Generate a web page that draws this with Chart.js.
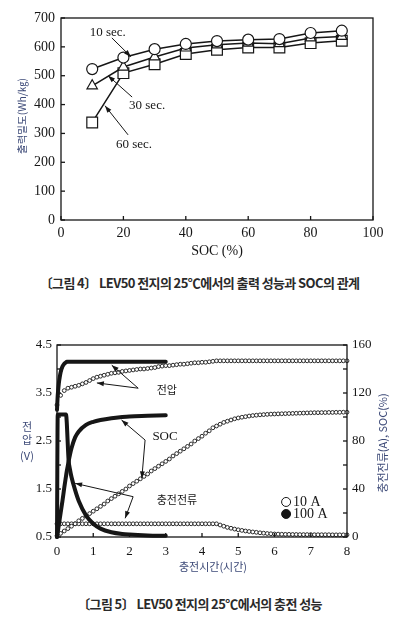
<!DOCTYPE html>
<html>
<head>
<meta charset="utf-8">
<script src="https://cdn.jsdelivr.net/npm/chart.js@4.4.0/dist/chart.umd.min.js"></script>
<style>
  body { margin: 0; background: #fff; width: 399px; height: 622px; position: relative; overflow: hidden; }
  canvas { position: absolute; left: 0; }
  #c1 { top: 0; }
  #c2 { top: 320px; }
  .cap { position: absolute; left: 0; width: 399px; text-align: center; white-space: nowrap;
         font-family: "Noto Sans CJK KR", sans-serif; font-size: 13px; font-weight: bold;
         line-height: 18px; color: #2a2a2a; letter-spacing: -0.6px; }
</style>
</head>
<body>
<canvas id="c1" width="399" height="262"></canvas>
<div class="cap" style="top:274px">〔그림 4〕 LEV50 전지의 25℃에서의 출력 성능과 SOC의 관계</div>
<canvas id="c2" width="399" height="260"></canvas>
<div class="cap" style="top:595px">〔그림 5〕 LEV50 전지의 25℃에서의 충전 성능</div>
<script>
const SERIF = "'Liberation Serif', 'DejaVu Serif', serif";
const KR = "'Noto Sans CJK KR', 'Noto Sans', sans-serif";
const INK = '#161616';
const NAVY = '#3d4a78';

// fig 4 : output density vs SOC
const socPct = [10, 20, 30, 40, 50, 60, 70, 80, 90];
const p10s = [523, 563, 592, 610, 620, 625, 627, 648, 656];
const p30s = [465, 530, 565, 596, 607, 613, 611, 631, 636];
const p60s = [338, 509, 540, 575, 590, 598, 598, 613, 621];

// fig 5 : charge at 10 A (open circles)
const t10 = [0,0.1,0.2,0.3,0.4,0.5,0.6,0.7,0.8,0.9,1,1.1,1.2,1.3,1.4,1.5,1.6,1.7,1.8,1.9,
  2,2.1,2.2,2.3,2.4,2.5,2.6,2.7,2.8,2.9,3,3.1,3.2,3.3,3.4,3.5,3.6,3.7,3.8,3.9,
  4,4.1,4.2,4.3,4.4,4.5,4.6,4.7,4.8,4.9,5,5.1,5.2,5.3,5.4,5.5,5.6,5.7,5.8,5.9,
  6,6.1,6.2,6.3,6.4,6.5,6.6,6.7,6.8,6.9,7,7.1,7.2,7.3,7.4,7.5,7.6,7.7,7.8,7.9,8];
const v10 = [3.25,3.45,3.55,3.6,3.62,3.64,3.66,3.69,3.72,3.76,
  3.8,3.83,3.85,3.87,3.89,3.91,3.92,3.93,3.95,3.96,
  3.97,3.98,3.99,4.0,4.0,4.01,4.02,4.03,4.05,4.06,
  4.07,4.07,4.08,4.09,4.1,4.1,4.11,4.12,4.13,4.13,
  4.14,4.14,4.15,4.16,4.17,4.17,4.17,4.17,4.17,4.17,
  4.17,4.17,4.17,4.17,4.17,4.17,4.17,4.17,4.17,4.17,
  4.17,4.17,4.17,4.17,4.17,4.17,4.17,4.17,4.17,4.17,
  4.17,4.17,4.17,4.17,4.17,4.17,4.17,4.17,4.17,4.17,
  4.17];
const soc10 = [1,3,5,7,9,11,13.5,15.5,17.5,19.5,
  21.5,23.5,25.5,27.5,30,32,34,36,38,40,
  42.5,44.5,46.5,48.5,50.5,52.5,55,57,59,61,
  63,65,67.5,69.5,71.5,73.5,75.5,77.5,80,82,
  84,86.5,88.5,91,92.5,94,95.5,96.5,97.5,98.5,
  99.2,99.8,100.3,100.8,101.2,101.5,101.8,102,102.2,102.4,
  102.5,102.6,102.7,102.8,102.9,103,103.1,103.2,103.3,103.4,
  103.5,103.6,103.6,103.7,103.7,103.8,103.8,103.9,103.9,104,
  104];
const cur10 = [11,11,11,11,11,11,11,11,11,11,
  11,11,11,11,11,11,11,11,11,11,
  11,11,11,11,11,11,11,11,11,11,
  11,11,11,11,11,11,11,11,11,11,
  11,11,11,11,11,10,9,8,7.3,6.6,
  6,5.5,5,4.6,4.2,3.9,3.5,3.2,2.9,2.7,
  2.5,2.4,2.3,2.2,2.2,2.1,2.1,2,2,2,
  2,1.9,1.9,1.9,1.9,1.9,1.8,1.8,1.8,1.8,
  1.8];

// fig 5 : charge at 100 A (filled, drawn as a heavy trace)
const t100 = [0,0.02,0.05,0.08,0.1,0.15,0.2,0.25,0.27,0.29,0.32,0.36,0.4,0.5,0.6,0.8,1.0,1.2,1.5,1.8,2.0,2.5,3.0];
const v100 = [3.15,3.45,3.7,3.85,3.93,4.05,4.11,4.14,4.15,4.15,4.15,4.15,4.15,4.15,4.15,4.15,4.15,4.15,4.15,4.15,4.15,4.15,4.15];
const soc100 = [0,4,10,16,20,30,41,51,55,58,63,69,74,83,88,93.5,96,97.5,99,100,100.5,101,101.5];
const cur100 = [0,102,102,102,102,102,102,102,95,82,64,56,50,39,30,18,11,7,4,2.5,2,1.3,1];

const pts = (xs, ys) => xs.map((x, i) => ({ x, y: ys[i] }));

// frame, inward ticks, free text and arrows
const frame = {
  id: 'frame',
  afterDraw(chart, args, o) {
    const { ctx, chartArea: a } = chart;
    ctx.save();
    ctx.strokeStyle = INK;
    ctx.lineWidth = 1.3;
    ctx.strokeRect(a.left, a.top, a.right - a.left, a.bottom - a.top);
    Object.values(chart.scales).forEach(s => {
      s.ticks.forEach(t => {
        const p = s.getPixelForValue(t.value);
        ctx.beginPath();
        if (s.position === 'left') { ctx.moveTo(a.left, p); ctx.lineTo(a.left + 4, p); }
        else if (s.position === 'right') { ctx.moveTo(a.right, p); ctx.lineTo(a.right - 4, p); }
        else { ctx.moveTo(p, a.bottom); ctx.lineTo(p, a.bottom - 4); }
        ctx.stroke();
      });
    });
    const X = chart.scales.x;
    ctx.lineWidth = 1;
    (o.arrows || []).forEach(ar => {
      const Y = chart.scales[ar.axis || 'y'];
      const x0 = X.getPixelForValue(ar.from[0]), y0 = Y.getPixelForValue(ar.from[1]);
      const x1 = X.getPixelForValue(ar.to[0]), y1 = Y.getPixelForValue(ar.to[1]);
      const ang = Math.atan2(y1 - y0, x1 - x0);
      ctx.beginPath(); ctx.moveTo(x0, y0); ctx.lineTo(x1, y1); ctx.stroke();
      ctx.beginPath();
      ctx.moveTo(x1, y1);
      ctx.lineTo(x1 - 7 * Math.cos(ang) + 2.5 * Math.sin(ang), y1 - 7 * Math.sin(ang) - 2.5 * Math.cos(ang));
      ctx.lineTo(x1 - 7 * Math.cos(ang) - 2.5 * Math.sin(ang), y1 - 7 * Math.sin(ang) + 2.5 * Math.cos(ang));
      ctx.closePath();
      ctx.fillStyle = INK; ctx.fill();
    });
    (o.marks || []).forEach(m => {
      const Y = chart.scales[m.axis || 'y'];
      ctx.beginPath();
      ctx.arc(X.getPixelForValue(m.x), Y.getPixelForValue(m.y), m.r, 0, Math.PI * 2);
      ctx.fillStyle = m.fill ? INK : '#fff';
      ctx.fill(); ctx.stroke();
    });
    ctx.textBaseline = 'middle';
    (o.texts || []).forEach(tx => {
      const Y = chart.scales[tx.axis || 'y'];
      ctx.font = tx.font; ctx.fillStyle = tx.color || INK; ctx.textAlign = tx.align || 'center';
      ctx.fillText(tx.text, X.getPixelForValue(tx.x), Y.getPixelForValue(tx.y));
    });
    (o.titles || []).forEach(tt => {
      ctx.save();
      ctx.translate(tt.x, tt.y);
      if (tt.rot) ctx.rotate(tt.rot);
      ctx.font = tt.font; ctx.fillStyle = tt.color || INK; ctx.textAlign = 'center';
      ctx.fillText(tt.text, 0, 0);
      ctx.restore();
    });
    ctx.restore();
  }
};

const tickFont = size => ({ family: SERIF, size });
const plain = { grid: { display: false, drawTicks: false, tickLength: 0 }, border: { display: false } };

// ---------- fig 4
const lineSet = (label, ys, style, r) => ({
  label, data: pts(socPct, ys), showLine: true,
  borderColor: INK, borderWidth: 1.5, pointStyle: style, pointRadius: r,
  pointBackgroundColor: '#fff', pointBorderColor: INK, pointBorderWidth: 1.2, clip: false
});

new Chart(document.getElementById('c1'), {
  type: 'scatter',
  data: { datasets: [
    lineSet('10 sec.', p10s, 'circle', 5.5),
    lineSet('30 sec.', p30s, 'triangle', 6),
    lineSet('60 sec.', p60s, 'rect', 7.6)
  ]},
  options: {
    responsive: false, animation: false,
    layout: { padding: { left: 0, right: 26, top: 18, bottom: 0 } },
    scales: {
      x: { ...plain, type: 'linear', min: 0, max: 100,
           ticks: { stepSize: 20, font: tickFont(14), color: INK, padding: 5, maxRotation: 0 },
           afterFit(s) { s.height = 42; } },
      y: { ...plain, min: 0, max: 700,
           ticks: { stepSize: 100, font: tickFont(14), color: INK, padding: 6 },
           afterFit(s) { s.width = 61; } }
    },
    plugins: {
      legend: { display: false }, tooltip: { enabled: false },
      frame: {
        texts: [
          { x: 15, y: 651, text: '10 sec.', font: `13px ${SERIF}` },
          { x: 27.6, y: 395, text: '30 sec.', font: `13px ${SERIF}` },
          { x: 23.4, y: 263, text: '60 sec.', font: `13px ${SERIF}` }
        ],
        arrows: [
          { from: [16.3, 631], to: [22.4, 566] },
          { from: [22.8, 426], to: [15.1, 500] },
          { from: [21.5, 295], to: [14.1, 396] }
        ],
        titles: [
          { text: '출력밀도(Wh/㎏)', x: 22, y: 116, rot: -Math.PI / 2, font: `10.5px ${KR}`, color: NAVY },
          { text: 'SOC (%)', x: 217, y: 251, font: `14px ${SERIF}` }
        ]
      }
    }
  },
  plugins: [frame]
});

// ---------- fig 5
const heavy = (ys, axis) => ({
  data: pts(t100, ys), yAxisID: axis, showLine: true, borderColor: INK, borderWidth: 4,
  pointRadius: 0, cubicInterpolationMode: 'monotone', borderJoinStyle: 'round', borderCapStyle: 'round', clip: false
});
const open = (ys, axis) => ({
  data: pts(t10, ys), yAxisID: axis, showLine: false, pointRadius: 1.9,
  pointBackgroundColor: '#fff', pointBorderColor: INK, pointBorderWidth: 0.9, clip: false
});

new Chart(document.getElementById('c2'), {
  type: 'scatter',
  data: { datasets: [
    heavy(v100, 'y'), heavy(soc100, 'y2'), heavy(cur100, 'y2'),
    open(v10, 'y'), open(soc10, 'y2'), open(cur10, 'y2')
  ]},
  options: {
    responsive: false, animation: false,
    layout: { padding: { left: 0, right: 0, top: 25, bottom: 0 } },
    scales: {
      x: { ...plain, type: 'linear', min: 0, max: 8,
           ticks: { stepSize: 1, font: tickFont(13), color: INK, padding: 7, maxRotation: 0 },
           afterFit(s) { s.height = 43; } },
      y: { ...plain, position: 'left', min: 0.5, max: 4.5,
           ticks: { stepSize: 0.5, font: tickFont(13), color: INK, padding: 5,
                    callback: v => (Math.round(v * 2) % 2 === 1 ? v.toFixed(1) : '') },
           afterFit(s) { s.width = 57; } },
      y2: { ...plain, position: 'right', min: 0, max: 160,
            ticks: { stepSize: 20, font: tickFont(13), color: INK, padding: 5,
                     callback: v => (v % 40 === 0 ? v : '') },
            afterFit(s) { s.width = 52; } }
    },
    plugins: {
      legend: { display: false }, tooltip: { enabled: false },
      frame: {
        texts: [
          { x: 3.03, y: 3.56, axis: 'y', text: '전압', font: `11px ${KR}` },
          { x: 2.98, y: 83.3, axis: 'y2', text: 'SOC', font: `13px ${SERIF}` },
          { x: 3.31, y: 30.8, axis: 'y2', text: '충전전류', font: `11px ${KR}` },
          { x: 6.51, y: 29.2, axis: 'y2', text: '10 A', align: 'left', font: `14px ${SERIF}` },
          { x: 6.51, y: 19.2, axis: 'y2', text: '100 A', align: 'left', font: `14px ${SERIF}` }
        ],
        arrows: [
          { from: [2.24, 3.60], to: [1.51, 4.08], axis: 'y' },
          { from: [2.24, 3.60], to: [1.10, 3.71], axis: 'y' },
          { from: [2.43, 80.8], to: [1.78, 97.5], axis: 'y2' },
          { from: [2.43, 80.8], to: [2.34, 48.9], axis: 'y2' },
          { from: [2.10, 33.6], to: [0.50, 44.7], axis: 'y2' },
          { from: [2.10, 33.6], to: [1.88, 15.6], axis: 'y2' }
        ],
        marks: [
          { x: 6.32, y: 29.2, axis: 'y2', r: 4.5, fill: false },
          { x: 6.32, y: 19.2, axis: 'y2', r: 4.5, fill: true }
        ],
        titles: [
          { text: '전', x: 27, y: 107, font: `11px ${KR}`, color: NAVY },
          { text: '압', x: 27, y: 120, font: `11px ${KR}`, color: NAVY },
          { text: '(V)', x: 27, y: 136, font: `11px ${KR}`, color: NAVY },
          { text: '충전시간(시간)', x: 213, y: 247, font: `11px ${KR}`, color: NAVY },
          { text: '충전전류(A), SOC(%)', x: 383, y: 123, rot: -Math.PI / 2, font: `11px ${KR}`, color: NAVY }
        ]
      }
    }
  },
  plugins: [frame]
});
</script>
</body>
</html>
